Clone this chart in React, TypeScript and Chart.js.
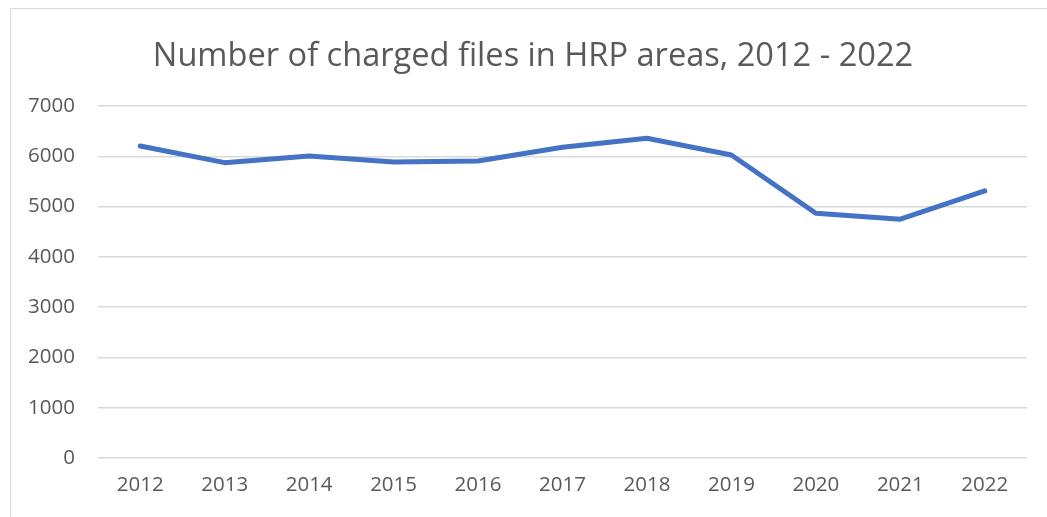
import React, { useEffect, useRef } from "react";
import { Chart, registerables } from "chart.js";

Chart.register(...registerables);

const TITLE = "Number of charged files in HRP areas, 2012 - 2022";
const years = ["2012", "2013", "2014", "2015", "2016", "2017", "2018", "2019", "2020", "2021", "2022"];
const chargedFiles = [6205, 5873, 6006, 5887, 5907, 6180, 6358, 6026, 4868, 4749, 5311];
const yMin = 0;
const yMax = 7000;
const yStep = 1000;

const FONT = "'Open Sans', 'Noto Sans', sans-serif";

export default function App() {
  const ref = useRef<HTMLCanvasElement | null>(null);

  useEffect(() => {
    if (!ref.current) return;
    const titlePlugin = {
      id: "customTitle",
      afterDraw(chart: any) {
        const ctx = chart.ctx;
        ctx.save();
        ctx.font = `32.6px ${FONT}`;
        ctx.fillStyle = "#595959";
        ctx.textAlign = "center";
        ctx.textBaseline = "alphabetic";
        ctx.fillText(TITLE, 533, 66);
        ctx.restore();
      },
    };
    const chart = new Chart(ref.current, {
      type: "line",
      data: {
        labels: years,
        datasets: [
          {
            label: "Charged files",
            data: chargedFiles,
            borderColor: "#4472C4",
            backgroundColor: "#4472C4",
            borderWidth: 5,
            pointRadius: 0,
            pointHoverRadius: 0,
            tension: 0,
            borderCapStyle: "round",
            borderJoinStyle: "round",
          },
        ],
      },
      options: {
        animation: false,
        responsive: false,
        maintainAspectRatio: false,
        layout: { padding: { top: 106, left: 0, right: 20, bottom: 0 } },
        plugins: {
          legend: { display: false },
          title: { display: false },
          tooltip: { enabled: false },
        },
        scales: {
          x: {
            type: "category",
            offset: true,
            grid: { display: false, drawTicks: false },
            border: { display: false },
            ticks: {
              color: "#595959",
              font: { family: FONT, size: 20.5 },
              padding: 15,
              maxRotation: 0,
            },
            afterFit(scale: any) {
              scale.height = 517 - 458;
            },
          },
          y: {
            min: yMin,
            max: yMax,
            grid: { color: "#d9d9d9", lineWidth: 1.5, drawTicks: false },
            border: { display: false },
            ticks: {
              stepSize: yStep,
              color: "#595959",
              font: { family: FONT, size: 20.5 },
              padding: 23,
              callback: (v: any) => String(v),
            },
            afterFit(scale: any) {
              scale.width = 98;
            },
          },
        },
      },
      plugins: [titlePlugin],
    });
    return () => chart.destroy();
  }, []);

  return (
    <div style={{ position: "absolute", left: 0, top: 0, width: 1047, height: 517, overflow: "hidden", background: "#fff" }}>
      <div
        style={{
          position: "absolute",
          left: 10,
          top: 8,
          width: 1100,
          height: 600,
          border: "1.5px solid #d9d9d9",
          boxSizing: "border-box",
        }}
      />
      <canvas ref={ref} width={1047} height={517} style={{ position: "absolute", left: 0, top: 0 }} />
    </div>
  );
}
